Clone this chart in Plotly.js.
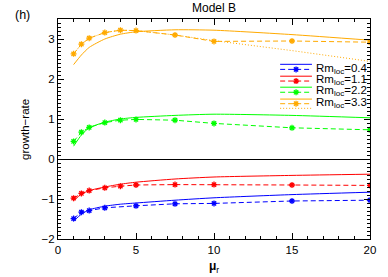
<!DOCTYPE html>
<html><head><meta charset="utf-8">
<script src="https://cdn.plot.ly/plotly-3.0.1.min.js"></script>
<style>html,body{margin:0;padding:0;background:#fff;}#c{width:388px;height:277px;}</style>
</head><body><div id="c"></div>
<script>
// x values (mu_r)
const xAll = [1, 1.5, 2, 3, 4, 5, 7.5, 10, 15, 20];
const xBlue = [1, 1.5, 2, 3, 5, 7.5, 10, 15, 20];
// solid curves (model)
const blueSolid   = [-1.55, -1.38, -1.27, -1.18, -1.13, -1.10, -1.03, -0.97, -0.89, -0.83];
const redSolid    = [-1.04, -0.88, -0.79, -0.70, -0.63, -0.58, -0.50, -0.45, -0.41, -0.38];
const greenSolid  = [0.32, 0.60, 0.78, 0.92, 1.00, 1.04, 1.09, 1.12, 1.09, 1.03];
const orangeSolid = [2.36, 2.60, 2.79, 3.00, 3.12, 3.18, 3.23, 3.22, 3.11, 2.97];
// dashed with markers (simulation)
const blueDash   = [-1.49, -1.33, -1.29, -1.22, -1.17, -1.12, -1.11, -1.05, -1.03];
const redDash    = [-0.98, -0.86, -0.79, -0.72, -0.68, -0.65, -0.64, -0.64, -0.65, -0.66];
const greenDash  = [0.44, 0.67, 0.79, 0.91, 0.97, 0.99, 0.97, 0.89, 0.78, 0.73];
const orangeDash = [2.63, 2.87, 3.02, 3.16, 3.22, 3.21, 3.10, 2.94, 2.95, 2.92];
// dotted (orange only)
const orangeDot  = [2.63, 2.87, 3.02, 3.16, 3.22, 3.21, 3.10, 2.96, 2.71, 2.44];
const legendLabels = ['Rm<sub>loc</sub>=0.4', 'Rm<sub>loc</sub>=1.1', 'Rm<sub>loc</sub>=2.2', 'Rm<sub>loc</sub>=3.3'];
const colors = ['#0000ff', '#ff0000', '#00ff00', '#ffaa00'];

const FONT = 'Liberation Sans, Arial, sans-serif';
const DASH = '5px,3px';
const DOT = '1px,2px';

const solids = [blueSolid, redSolid, greenSolid, orangeSolid];
const dashes = [blueDash, redDash, greenDash, orangeDash];
const dashX = [xBlue, xAll, xAll, xAll];

const traces = [];
for (let i = 0; i < 4; i++) {
  traces.push({x: xAll, y: solids[i], mode: 'lines', line: {color: colors[i], width: 1, shape: 'spline', smoothing: 0.6}, showlegend: false, hoverinfo: 'skip'});
  traces.push({x: dashX[i], y: dashes[i], mode: 'lines+markers', line: {color: colors[i], width: 1, dash: DASH},
    marker: {symbol: 'asterisk-open', size: 5, line: {color: colors[i], width: 1.3}}, showlegend: false, hoverinfo: 'skip'});
}
traces.push({x: xAll, y: orangeDot, mode: 'lines', line: {color: colors[3], width: 1, dash: DOT}, showlegend: false, hoverinfo: 'skip'});

// legend geometry (paper coords)
const lx0 = 0.712, lx1 = 0.814, lxm = 0.763, ltx = 0.822;
const rowSolid = [0.794, 0.740, 0.690, 0.636];
const rowDash  = [0.771, 0.718, 0.667, 0.615];
const rowDot = 0.594;
const shapes = [];
const annotations = [];
for (let i = 0; i < 4; i++) {
  shapes.push({type: 'line', xref: 'paper', yref: 'paper', x0: lx0, x1: lx1, y0: rowSolid[i], y1: rowSolid[i], line: {color: colors[i], width: 1}});
  shapes.push({type: 'line', xref: 'paper', yref: 'paper', x0: lx0, x1: lx1, y0: rowDash[i], y1: rowDash[i], line: {color: colors[i], width: 1, dash: DASH}});
  annotations.push({xref: 'paper', yref: 'paper', x: ltx, y: rowDash[i] + 0.004, xanchor: 'left', yanchor: 'middle', showarrow: false,
    text: legendLabels[i], font: {family: FONT, size: 11.5, color: '#000'}});
}
shapes.push({type: 'line', xref: 'paper', yref: 'paper', x0: lx0, x1: lx1, y0: rowDot, y1: rowDot, line: {color: colors[3], width: 1, dash: DOT}});
traces.push({x: [lxm, lxm, lxm, lxm], y: rowDash, xaxis: 'x2', yaxis: 'y2', mode: 'markers',
  marker: {symbol: 'asterisk-open', size: 5, color: colors, line: {color: colors, width: 1.3}}, showlegend: false, hoverinfo: 'skip'});

annotations.push({xref: 'paper', yref: 'paper', x: -0.115, y: 1.018, xanchor: 'center', yanchor: 'middle', showarrow: false,
  text: '(h)', font: {family: FONT, size: 12.5, color: '#000'}});
annotations.push({xref: 'paper', yref: 'paper', x: -0.106, y: 0.5, xanchor: 'center', yanchor: 'middle', showarrow: false, textangle: -90,
  text: 'growth\u2212rate', font: {family: FONT, size: 11.5, color: '#000'}});
annotations.push({xref: 'paper', yref: 'paper', x: 0.5, y: -0.126, xanchor: 'center', yanchor: 'middle', showarrow: false,
  text: '<b>\u03bc</b><sub>r</sub>', font: {family: FONT, size: 12, color: '#000'}});

const axisCommon = {
  showgrid: false, showline: true, linecolor: '#000', linewidth: 1, mirror: 'ticks',
  ticks: 'inside', tickcolor: '#000', tickwidth: 1, ticklen: 6,
  tickfont: {family: FONT, size: 11.5, color: '#000'}, zeroline: false, fixedrange: true
};

const layout = {
  width: 388, height: 277,
  margin: {l: 58, r: 18, t: 19, b: 38},
  paper_bgcolor: '#fff', plot_bgcolor: '#fff',
  showlegend: false,
  title: {text: 'Model B', xref: 'paper', x: 0.5, yref: 'container', y: 0.971, yanchor: 'middle', font: {family: FONT, size: 12, color: '#000'}},
  xaxis: Object.assign({}, axisCommon, {range: [0, 20], tickvals: [0, 5, 10, 15, 20],
    minor: {dtick: 1, tick0: 0, ticks: 'inside', ticklen: 3, tickcolor: '#000', tickwidth: 1}}),
  yaxis: Object.assign({}, axisCommon, {range: [-2, 3.5], tickvals: [-2, -1, 0, 1, 2, 3],
    zeroline: true, zerolinecolor: '#000', zerolinewidth: 1,
    minor: {dtick: 0.1, tick0: 0, ticks: 'inside', ticklen: 3, tickcolor: '#000', tickwidth: 1}}),
  xaxis2: {overlaying: 'x', range: [0, 1], visible: false, fixedrange: true},
  yaxis2: {overlaying: 'y', range: [0, 1], visible: false, fixedrange: true},
  shapes: shapes,
  annotations: annotations
};

Plotly.newPlot('c', traces, layout, {staticPlot: true, displayModeBar: false});
</script>
</body></html>
